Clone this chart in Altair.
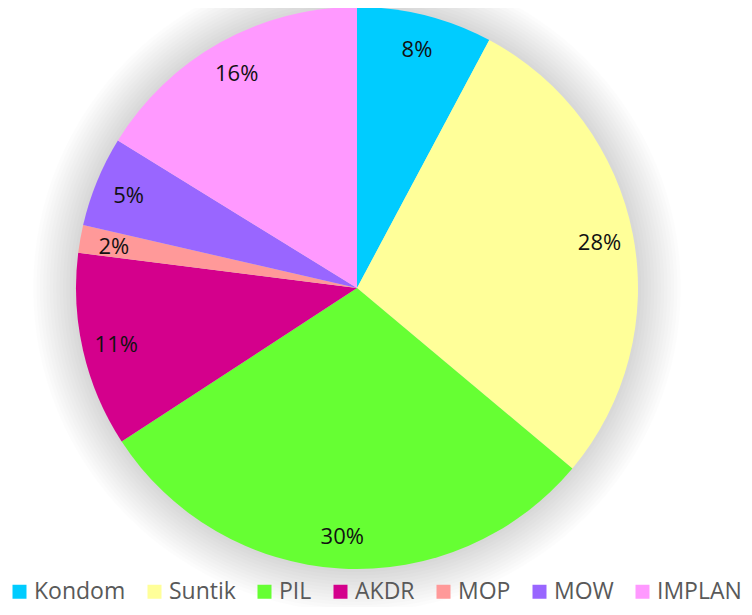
import altair as alt
import pandas as pd

categories = ["Kondom", "Suntik", "PIL", "AKDR", "MOP", "MOW", "IMPLAN"]
values = [7.8, 28.3, 29.7, 11.2, 1.6, 5.2, 16.2]
colors = ["#00CCFF", "#FFFF99", "#66FF33", "#D4008C", "#FF9999", "#9966FF", "#FF99FF"]

df = pd.DataFrame({
    "kategori": categories,
    "nilai": values,
    "urut": list(range(len(categories))),
    "label": [f"{round(v)}%" for v in values],
})

CX, CY, R = 349, 280, 281

base = alt.Chart(df).encode(
    theta=alt.Theta("nilai:Q", stack=True),
    order=alt.Order("urut:Q"),
)

# soft shadow rings behind the pie (full circles, decorative)
ring = pd.DataFrame({"r": [0]})
shadow_layers = []
for k in range(1, 14):
    shadow_layers.append(
        alt.Chart(ring).mark_arc(
            fill="#000000", opacity=0.01, theta=0, theta2=6.2832, stroke=None
        ).encode(
            x=alt.value(CX), y=alt.value(CY),
            radius=alt.value(R + 3.3 * k),
        )
    )

pie = base.mark_arc(stroke=None).encode(
    x=alt.value(CX), y=alt.value(CY),
    radius=alt.value(R),
    color=alt.Color(
        "kategori:N",
        sort=categories,
        scale=alt.Scale(domain=categories, range=colors),
        legend=alt.Legend(
            title=None,
            orient="none",
            direction="horizontal",
            legendX=0,
            legendY=572,
            padding=0,
            symbolType="square",
            symbolSize=196,
            symbolStrokeWidth=0,
            labelFont="Open Sans",
            labelFontSize=23,
            labelColor="#595959",
            labelOffset=3,
            columnPadding=17,
        ),
    ),
)

labels = base.mark_text(font="Open Sans", fontSize=22, color="#111111", dy=2).encode(
    x=alt.value(CX), y=alt.value(CY),
    radius=alt.value(247),
    text="label:N",
)

chart = alt.layer(*shadow_layers, pie, labels).properties(
    width=736, height=599, padding=0, autosize=alt.AutoSizeParams(type="none")
).configure_view(stroke=None)

chart.save("out.html", embed_options={"renderer": "svg", "actions": False})
